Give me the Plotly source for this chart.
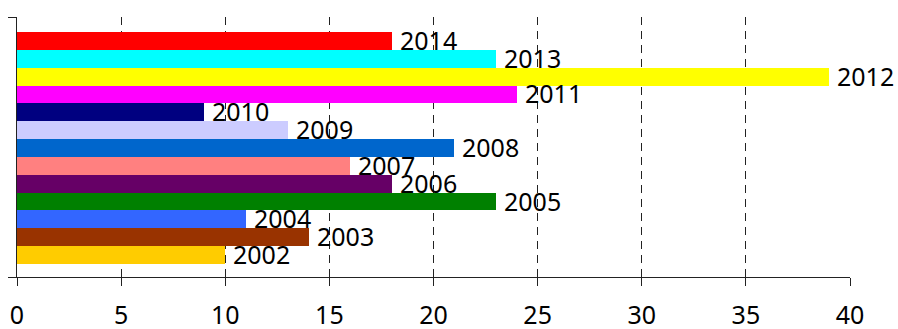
import plotly.graph_objects as go

# Yearly values, bottom (2002) to top (2014)
years = [2002, 2003, 2004, 2005, 2006, 2007, 2008, 2009, 2010, 2011, 2012, 2013, 2014]
values = [10, 14, 11, 23, 18, 16, 21, 13, 9, 24, 39, 23, 18]
bar_colors = ["#FFCC00", "#993300", "#3366FF", "#008000", "#660066", "#FF8080",
              "#0066CC", "#CCCCFF", "#000080", "#FF00FF", "#FFFF00", "#00FFFF", "#FF0000"]
x_ticks = [0, 5, 10, 15, 20, 25, 30, 35, 40]

FONT = "Noto Sans"
y_lo, y_hi = years[0] - 1.23, years[-1] + 1.34

fig = go.Figure()
fig.add_trace(go.Bar(
    x=values, y=years, orientation="h", width=1,
    marker=dict(color=bar_colors, line=dict(width=0)),
    hoverinfo="skip",
))

# Year labels just past the end of each bar
for yr, v in zip(years, values):
    fig.add_annotation(
        x=v, y=yr, text=str(yr), showarrow=False,
        xanchor="left", yanchor="middle", xshift=8, yshift=1,
        borderpad=0, borderwidth=0,
        font=dict(family=FONT, size=25, color="black"),
    )

fig.update_layout(
    width=898, height=329,
    margin=dict(l=17, r=48, t=17, b=52, autoexpand=False),
    paper_bgcolor="white", plot_bgcolor="white",
    showlegend=False, bargap=0,
    font=dict(family=FONT, size=25, color="black"),
)
fig.update_xaxes(
    range=[0, 40], tickvals=x_ticks, ticktext=[str(t) for t in x_ticks],
    showgrid=True, gridcolor="#222222", gridwidth=1, griddash="8px,6px",
    zeroline=False, showline=True, linecolor="#222222", linewidth=1,
    ticks="outside", ticklen=8, tickcolor="#222222",
    ticklabelstandoff=8, automargin=False,
    tickfont=dict(family=FONT, size=25, color="black"),
)
fig.update_yaxes(
    range=[y_lo, y_hi], tickvals=[y_lo, y_hi], showticklabels=False,
    showgrid=False, zeroline=False, showline=True, linecolor="#222222", linewidth=1,
    ticks="outside", ticklen=8, tickcolor="#222222", automargin=False,
)

fig.write_html("out.html", config={"displayModeBar": False})
